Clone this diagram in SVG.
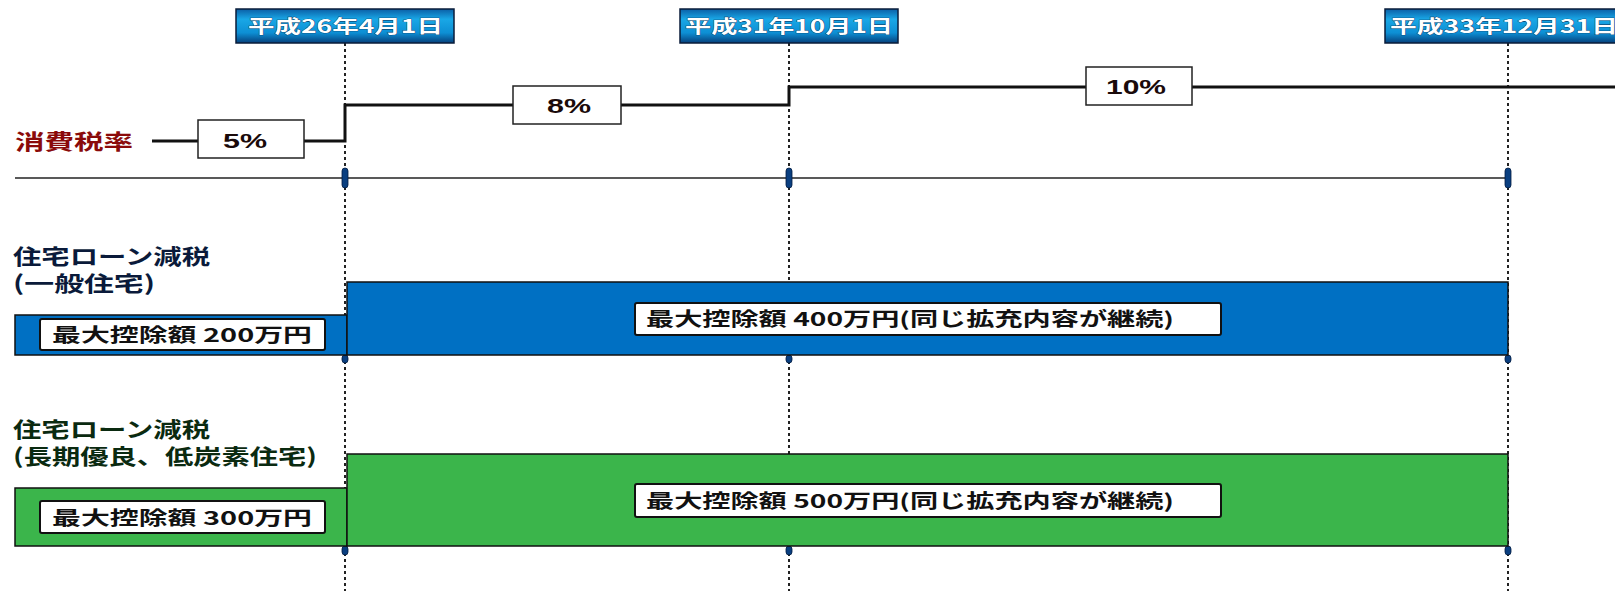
<svg xmlns="http://www.w3.org/2000/svg" width="1615" height="591" viewBox="0 0 1615 591">
<defs>
<linearGradient id="hdr" x1="0" y1="0" x2="0" y2="1">
<stop offset="0" stop-color="#0b5fa6"/>
<stop offset="0.3" stop-color="#19a7e6"/>
<stop offset="0.7" stop-color="#0d8fd4"/>
<stop offset="1" stop-color="#06407c"/>
</linearGradient>
<style>
.dot{stroke:#222;stroke-width:2;stroke-dasharray:3 3;fill:none}
.step{stroke:#111;stroke-width:3;fill:none}
.thin{stroke:#222;stroke-width:1.5;fill:none}
.tick{fill:#0a3f80;stroke:#001a40;stroke-width:0.8}
.hdr{fill:url(#hdr);stroke:#0a1c3a;stroke-width:1.5}
.hdrt{font-family:"Noto Sans CJK JP","Liberation Sans",sans-serif;font-size:18px;font-weight:bold;fill:#fff;stroke:#0a2a50;stroke-width:0.6;paint-order:stroke}
.pbox{fill:#fff;stroke:#222;stroke-width:1.5}
.pt{font-family:"Liberation Sans","Noto Sans CJK JP",sans-serif;font-size:21px;font-weight:bold;fill:#1a0a0a;text-anchor:middle}
.sec{font-family:"Noto Sans CJK JP","Liberation Sans",sans-serif;font-size:21px;font-weight:bold}
.blue{fill:#0070c3;stroke:#111;stroke-width:1.5}
.green{fill:#3bb54b;stroke:#111;stroke-width:1.5}
.lbl{fill:#fff;stroke:#111;stroke-width:2}
.lt{font-family:"Noto Sans CJK JP","Liberation Sans",sans-serif;font-size:19px;font-weight:bold;fill:#111}
</style>
</defs>

<g id="guides">
<line class="dot" x1="345" y1="43" x2="345" y2="591"/>
<line class="dot" x1="789" y1="43" x2="789" y2="591"/>
<line class="dot" x1="1508" y1="43" x2="1508" y2="591"/>
</g>

<g id="connectors">
<polyline class="step" points="152,141 345,141 345,105 789,105 789,87 1615,87"/>
<line class="thin" x1="15" y1="178" x2="1508" y2="178"/>
</g>

<g id="date1">
<rect class="hdr" x="236" y="9" width="218" height="34"/>
<text class="hdrt" x="248" y="33" textLength="195" lengthAdjust="spacingAndGlyphs">平成26年4月1日</text>
</g>
<g id="date2">
<rect class="hdr" x="680" y="9" width="218" height="34"/>
<text class="hdrt" x="685" y="33" textLength="208" lengthAdjust="spacingAndGlyphs">平成31年10月1日</text>
</g>
<g id="date3">
<rect class="hdr" x="1385" y="9" width="240" height="34"/>
<text class="hdrt" x="1390" y="33" textLength="228" lengthAdjust="spacingAndGlyphs">平成33年12月31日</text>
</g>

<g id="tax-label">
<text class="sec" x="15" y="149" fill="#8a0a0a" textLength="118" lengthAdjust="spacingAndGlyphs">消費税率</text>
</g>
<g id="rate5">
<rect class="pbox" x="198" y="120" width="106" height="38"/>
<text class="pt" x="245" y="148" textLength="44" lengthAdjust="spacingAndGlyphs">5%</text>
</g>
<g id="rate8">
<rect class="pbox" x="513" y="86" width="108" height="38"/>
<text class="pt" x="569" y="113" textLength="44" lengthAdjust="spacingAndGlyphs">8%</text>
</g>
<g id="rate10">
<rect class="pbox" x="1086" y="67" width="106" height="38"/>
<text class="pt" x="1136" y="94" textLength="60" lengthAdjust="spacingAndGlyphs">10%</text>
</g>

<g id="ticks">
<rect class="tick" x="342" y="168" width="6" height="20" rx="3"/>
<rect class="tick" x="786" y="168" width="6" height="20" rx="3"/>
<rect class="tick" x="1505" y="168" width="6" height="20" rx="3"/>
<rect class="tick" x="342" y="355" width="6" height="8" rx="3"/>
<rect class="tick" x="786" y="355" width="6" height="8" rx="3"/>
<rect class="tick" x="1505" y="355" width="6" height="8" rx="3"/>
<rect class="tick" x="342" y="546" width="6" height="9" rx="3"/>
<rect class="tick" x="786" y="546" width="6" height="9" rx="3"/>
<rect class="tick" x="1505" y="546" width="6" height="9" rx="3"/>
</g>

<g id="general-label">
<text class="sec" x="13" y="264" fill="#0a1a3a" textLength="197" lengthAdjust="spacingAndGlyphs">住宅ローン減税</text>
<text class="sec" x="13" y="291" fill="#0a1a3a" textLength="142" lengthAdjust="spacingAndGlyphs">(一般住宅)</text>
</g>
<g id="general-before">
<rect class="blue" x="15" y="315" width="332" height="40"/>
<rect class="lbl" x="40" y="319" width="285" height="31" rx="2"/>
<text class="lt" x="52" y="342" textLength="260" lengthAdjust="spacingAndGlyphs">最大控除額 200万円</text>
</g>
<g id="general-after">
<rect class="blue" x="347" y="282" width="1161" height="73"/>
<rect class="lbl" x="635" y="303" width="586" height="32" rx="2"/>
<text class="lt" x="646" y="326" textLength="528" lengthAdjust="spacingAndGlyphs">最大控除額 400万円(同じ拡充内容が継続)</text>
</g>

<g id="longterm-label">
<text class="sec" x="13" y="437" fill="#0a2a10" textLength="197" lengthAdjust="spacingAndGlyphs">住宅ローン減税</text>
<text class="sec" x="13" y="464" fill="#0a2a10" textLength="304" lengthAdjust="spacingAndGlyphs">(長期優良、低炭素住宅)</text>
</g>
<g id="longterm-before">
<rect class="green" x="15" y="488" width="332" height="58"/>
<rect class="lbl" x="40" y="501" width="285" height="32" rx="2"/>
<text class="lt" x="52" y="525" textLength="260" lengthAdjust="spacingAndGlyphs">最大控除額 300万円</text>
</g>
<g id="longterm-after">
<rect class="green" x="347" y="454" width="1161" height="92"/>
<rect class="lbl" x="635" y="484" width="586" height="33" rx="2"/>
<text class="lt" x="646" y="508" textLength="528" lengthAdjust="spacingAndGlyphs">最大控除額 500万円(同じ拡充内容が継続)</text>
</g>
</svg>
